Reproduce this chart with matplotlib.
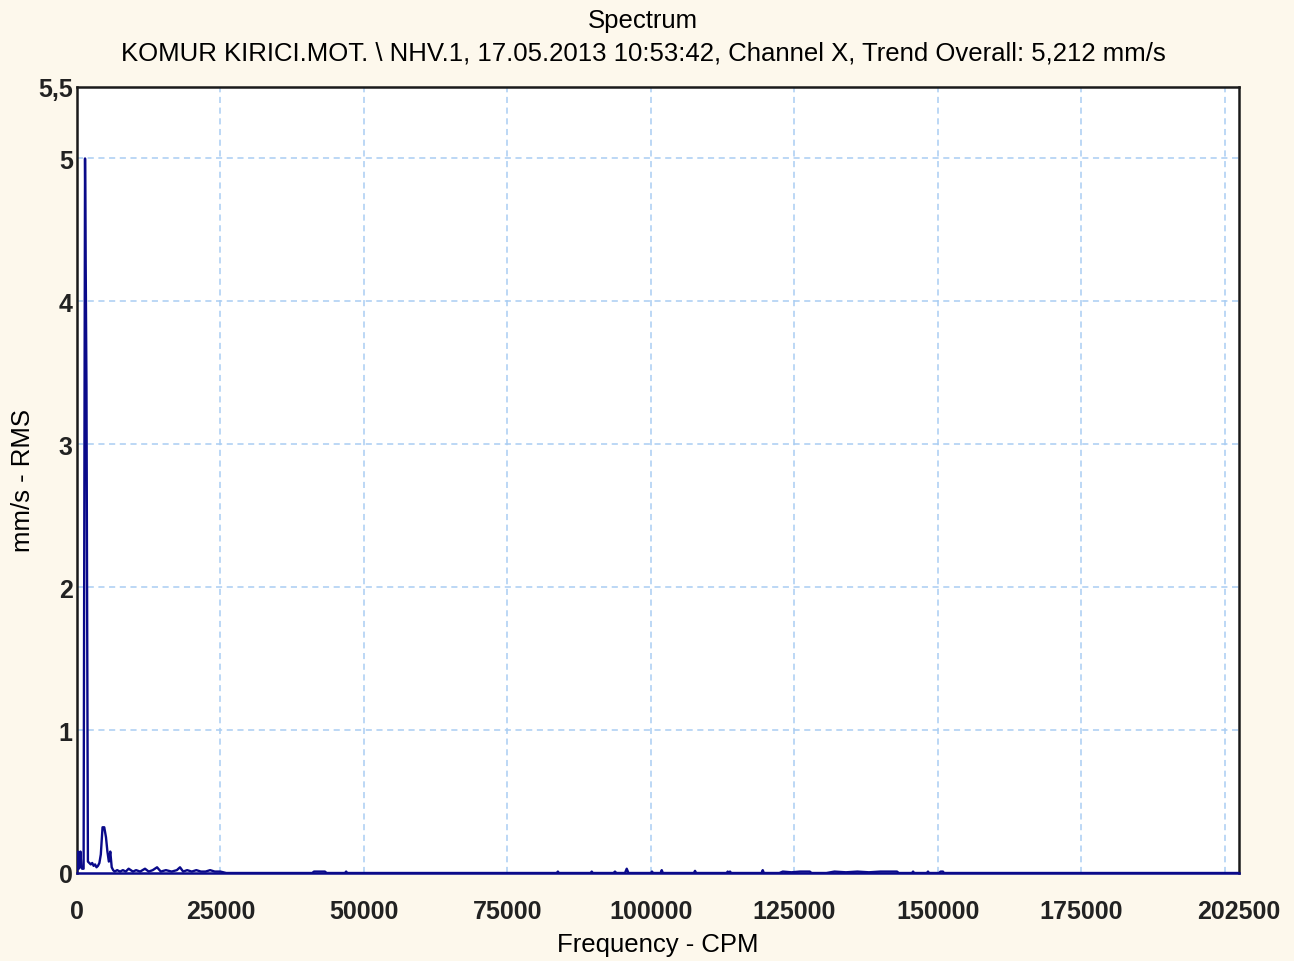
import matplotlib.pyplot as plt
import matplotlib.ticker as mticker

# spectrum values (CPM, mm/s RMS)
freq = [0, 150, 300, 450, 600, 750, 900, 1150, 1400, 1650, 1900, 2150, 2400,
        2650, 2900, 3150, 3400, 3650, 3900, 4150, 4450, 4750, 5050, 5300,
        5550, 5800, 6050, 6300, 6550, 7000, 7500, 8000, 8500, 9000, 9750,
        10300, 11000, 11850, 12500, 13200, 13950, 14600, 15500, 16500, 17400,
        17950, 18500, 19200, 20000, 20800, 21600, 22400, 23200, 24000, 25000,
        26000,
        41000, 41300, 42000, 43200, 43500, 46700, 46900, 47100,
        83600, 83800, 84000, 89500, 89700, 89900, 93500, 93750, 94000,
        95500, 95800, 96100, 100000, 100200, 100400, 101700, 101900, 102100,
        107500, 107700, 107900, 113200, 113400, 113600, 113800, 114000,
        119300, 119500, 119700, 122400, 123000, 124500, 126000, 127700, 128000,
        130600, 132000, 134000, 136000, 138000, 140000, 142900, 143200,
        145500, 145700, 145900, 148100, 148300, 148500, 150200, 150500, 150900, 151100,
        202500]
amp = [0.01, 0.15, 0.03, 0.04, 0.15, 0.04, 0.03, 0.03, 5.0, 3.4, 0.08, 0.07, 0.06,
       0.07, 0.05, 0.06, 0.04, 0.05, 0.07, 0.13, 0.32, 0.32, 0.25, 0.15,
       0.08, 0.15, 0.04, 0.02, 0.01, 0.02, 0.01, 0.02, 0.01, 0.03, 0.01,
       0.02, 0.01, 0.03, 0.01, 0.02, 0.04, 0.01, 0.02, 0.01, 0.02,
       0.04, 0.01, 0.02, 0.01, 0.02, 0.01, 0.01, 0.02, 0.01, 0.01,
       0.0,
       0.0, 0.01, 0.01, 0.01, 0.0, 0.0, 0.01, 0.0,
       0.0, 0.01, 0.0, 0.0, 0.01, 0.0, 0.0, 0.01, 0.0,
       0.0, 0.03, 0.0, 0.0, 0.01, 0.0, 0.0, 0.02, 0.0,
       0.0, 0.015, 0.0, 0.0, 0.01, 0.0, 0.01, 0.0,
       0.0, 0.02, 0.0, 0.0, 0.01, 0.005, 0.01, 0.01, 0.0,
       0.0, 0.01, 0.005, 0.01, 0.005, 0.01, 0.01, 0.0,
       0.0, 0.01, 0.0, 0.0, 0.01, 0.0, 0.0, 0.01, 0.01, 0.0,
       0.0]

x_ticks = [0, 25000, 50000, 75000, 100000, 125000, 150000, 175000, 202500]
x_grid = [25000, 50000, 75000, 100000, 125000, 150000, 175000, 200000]
y_ticks = [0, 1, 2, 3, 4, 5, 5.5]
y_grid = [1, 2, 3, 4, 5]

plt.rcParams['font.family'] = ['Liberation Sans', 'DejaVu Sans']

fig = plt.figure(figsize=(12.94, 9.62), dpi=100, facecolor='#fdf8ec')
ax = fig.add_axes([77 / 1294, 1 - 874 / 962, 1162 / 1294, 786 / 962])
ax.set_facecolor('white')

for gx in x_grid:
    ax.axvline(gx, color='#a9cdf2', lw=1.1, ls=(0, (4, 3)), zorder=1)
for gy in y_grid:
    ax.axhline(gy, color='#a9cdf2', lw=1.1, ls=(0, (4, 3)), zorder=1)

ax.plot(freq, amp, color='#0a0a8a', lw=1.7, zorder=3)

ax.set_xlim(0, 202500)
ax.set_ylim(0, 5.5)
ax.set_xticks(x_ticks)
ax.set_xticklabels([str(t) for t in x_ticks])
ax.set_yticks(y_ticks)
ax.yaxis.set_major_formatter(mticker.FuncFormatter(lambda v, p: ('%g' % v).replace('.', ',')))
ax.tick_params(length=0, labelsize=18, colors='#222222')
ax.tick_params(axis='x', pad=19)
ax.tick_params(axis='y', pad=3)
for lab in ax.get_xticklabels() + ax.get_yticklabels():
    lab.set_fontweight('bold')

for s in ax.spines.values():
    s.set_linewidth(1.8)
    s.set_color('#1a1a1a')
ax.spines['bottom'].set_color('#0a0a8a')

ax.set_xlabel('Frequency - CPM', fontsize=18.5, labelpad=6)
ax.set_ylabel('mm/s - RMS', fontsize=18.5, labelpad=2)

fig.text(0.497, 1 - 21 / 962, 'Spectrum', ha='center', va='center', fontsize=18.5)
fig.text(0.497, 1 - 54 / 962,
         'KOMUR KIRICI.MOT. \\ NHV.1, 17.05.2013 10:53:42, Channel X, Trend Overall: 5,212 mm/s',
         ha='center', va='center', fontsize=18.5)

fig.savefig('out.png', dpi=100, facecolor=fig.get_facecolor())
